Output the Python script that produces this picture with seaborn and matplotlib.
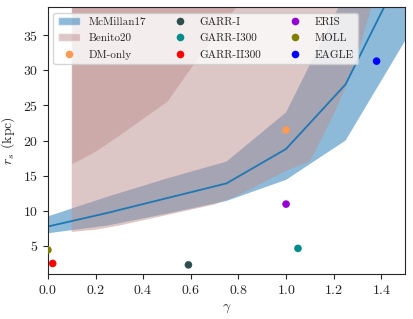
import numpy as np
import pandas as pd
import matplotlib
matplotlib.use("Agg")
import matplotlib.pyplot as plt
import seaborn as sns
from matplotlib.patches import Patch
from matplotlib.lines import Line2D

# McMillan17 band (gamma grid)
mm_gamma = [0.0, 0.25, 0.5, 0.75, 1.0, 1.25, 1.5]
mm_mid = [7.76, 9.7, 11.8, 13.9, 18.8, 28.0, 45.0]
mm_low = [6.8, 7.9, 9.6, 11.4, 14.4, 20.0, 34.2]
mm_high = [9.2, 12.0, 14.6, 17.0, 24.0, 41.0, 60.0]

# Benito20 regions
ben_gamma = [0.1, 0.2, 0.3, 0.5, 0.7, 0.8, 1.0, 1.1, 1.2, 1.25, 1.3, 1.35, 1.4]
ben_low = [7.0, 7.3, 7.9, 9.4, 10.9, 12.2, 15.7, 17.0, 23.7, 27.5, 32.3, 38.0, 45.0]
ben_high = [60.0] * len(ben_gamma)
ben2_gamma = [0.1, 0.2, 0.3, 0.4, 0.5, 0.6, 0.7, 0.8, 0.9]
ben2_low = [16.7, 18.5, 20.8, 23.2, 25.6, 30.4, 35.0, 39.5, 45.0]
ben2_high = [60.0] * len(ben2_gamma)

# simulations
sim_names = ["DM-only", "GARR-I", "GARR-I300", "GARR-II300", "ERIS", "MOLL", "EAGLE"]
sim_gamma = [1.0, 0.59, 1.05, 0.02, 1.0, 0.0, 1.38]
sim_rs = [21.5, 2.3, 4.65, 2.5, 10.95, 4.43, 31.3]
sim_colors = ["#ff9a52", "darkslategray", "darkcyan", "red", "darkviolet", "olive", "blue"]

sns.set_style("ticks")
plt.rcParams["font.family"] = "serif"
plt.rcParams["font.serif"] = ["cmr10"]
plt.rcParams["mathtext.fontset"] = "cm"
plt.rcParams["axes.formatter.use_mathtext"] = True
plt.rcParams["font.size"] = 10

fig, ax = plt.subplots(figsize=(4.13, 3.19), dpi=100)
fig.subplots_adjust(left=0.116, right=0.981, bottom=0.141, top=0.978)

ax.fill_between(mm_gamma, mm_low, mm_high, color="C0", alpha=0.5, lw=0)
ax.fill_between(ben_gamma, ben_low, ben_high, color="rosybrown", alpha=0.5, lw=0)
ax.fill_between(ben2_gamma, ben2_low, ben2_high, color="rosybrown", alpha=0.5, lw=0)
sns.lineplot(x=mm_gamma, y=mm_mid, ax=ax, color="C0", lw=1.3)

df = pd.DataFrame({"name": sim_names, "gamma": sim_gamma, "rs": sim_rs})
sns.scatterplot(data=df, x="gamma", y="rs", hue="name", palette=dict(zip(sim_names, sim_colors)),
                s=30, edgecolor="none", ax=ax, legend=False, zorder=5)

handles = [Patch(facecolor="C0", alpha=0.5, label="McMillan17"),
           Patch(facecolor="rosybrown", alpha=0.5, label="Benito20")]
for n, c in zip(sim_names, sim_colors):
    handles.append(Line2D([], [], ls="", marker="o", ms=5.5, color=c, mec="none", label=n))
ax.legend(handles=handles, ncol=3, loc="upper left", fontsize=8, labelspacing=0.6)

ax.set_xlim(0, 1.5)
ax.set_ylim(1, 39)
ax.set_xticks([0.0, 0.2, 0.4, 0.6, 0.8, 1.0, 1.2, 1.4])
ax.set_yticks([5, 10, 15, 20, 25, 30, 35])
ax.set_xlabel(r"$\gamma$")
ax.set_ylabel(r"$r_s$ (kpc)")

fig.savefig("out.png", dpi=100)
